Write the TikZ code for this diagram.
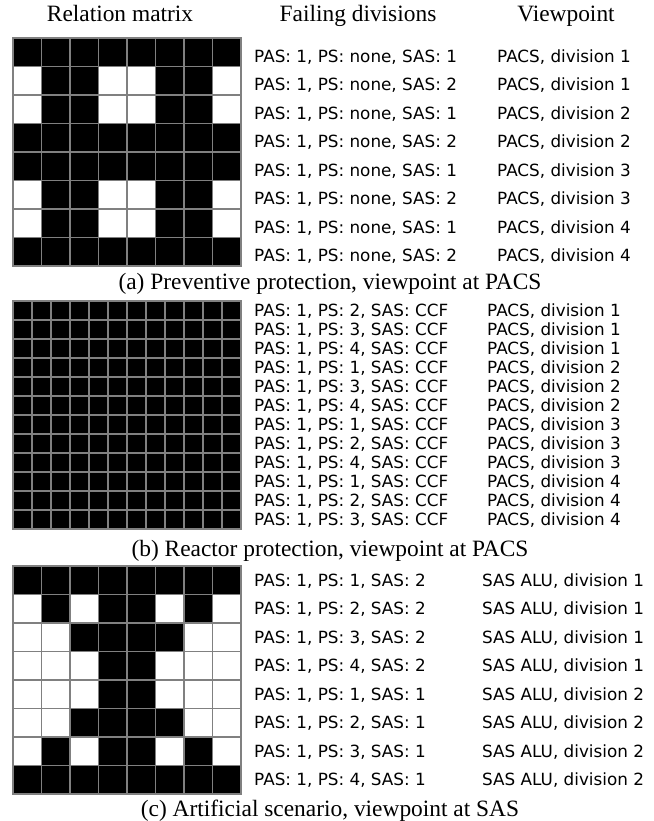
\documentclass[tikz,border=0pt]{standalone}
\usepackage{fontspec}
\setmainfont{Liberation Serif}
\newfontfamily\labelfont{DejaVu Sans}

\begin{document}
\begin{tikzpicture}[
    x=1pt, y=-1pt,
    blk/.style={draw=black!50, line width=1.6pt, fill=black},
    wht/.style={draw=black!50, line width=1.6pt, fill=white},
    heading/.style={font=\fontsize{23.4}{23.4}\selectfont, anchor=base, inner sep=0pt},
    rowlabel/.style={font=\labelfont\fontsize{16.8}{16.8}\selectfont,
                     anchor=base west, inner sep=0pt},
]

% fixed page size
\useasboundingbox (0,0) rectangle (653,821);

% --- Column headings ---
\node[heading] (hdrmat)  at (120, 22) {Relation matrix};
\node[heading] (hdrfail) at (358, 22) {Failing divisions};
\node[heading] (hdrview) at (566, 22) {Viewpoint};

% --- (a) Preventive protection ---
\foreach \r/\row in {
    1/{blk,blk,blk,blk,blk,blk,blk,blk},
    2/{wht,blk,blk,wht,wht,blk,blk,wht},
    3/{wht,blk,blk,wht,wht,blk,blk,wht},
    4/{blk,blk,blk,blk,blk,blk,blk,blk},
    5/{blk,blk,blk,blk,blk,blk,blk,blk},
    6/{wht,blk,blk,wht,wht,blk,blk,wht},
    7/{wht,blk,blk,wht,wht,blk,blk,wht},
    8/{blk,blk,blk,blk,blk,blk,blk,blk}} {
  \foreach \s [count=\c] in \row
    \draw[\s] ({13+28.5*(\c-1)}, {38+28.5*(\r-1)}) rectangle ++(28.5,28.5);
}
\foreach \sas/\dv [count=\i] in {1/1,2/1,1/2,2/2,1/3,2/3,1/4,2/4} {
  \node[rowlabel] (fa\i) at (254, {38+28.5*\i-14.25+10}) {PAS: 1, PS: none, SAS: \sas};
  \node[rowlabel] (va\i) at (497, {38+28.5*\i-14.25+10}) {PACS, division \dv};
}
\node[heading] (capa) at (330, 289) {(a) Preventive protection, viewpoint at PACS};

% --- (b) Reactor protection ---
\foreach \r in {1,...,12}
  \foreach \c in {1,...,12}
    \draw[blk] ({13+19*(\c-1)}, {301+19*(\r-1)}) rectangle ++(19,19);
\foreach \ps/\dv [count=\i] in {2/1,3/1,4/1,1/2,3/2,4/2,1/3,2/3,4/3,1/4,2/4,3/4} {
  \node[rowlabel] (fb\i) at (254, {301+19*\i-9.5+6}) {PAS: 1, PS: \ps, SAS: CCF};
  \node[rowlabel] (vb\i) at (487, {301+19*\i-9.5+6}) {PACS, division \dv};
}
\node[heading] (capb) at (330, 556) {(b) Reactor protection, viewpoint at PACS};

% --- (c) Artificial scenario ---
\foreach \r/\row in {
    1/{blk,blk,blk,blk,blk,blk,blk,blk},
    2/{wht,blk,wht,blk,blk,wht,blk,wht},
    3/{wht,wht,blk,blk,blk,blk,wht,wht},
    4/{wht,wht,wht,blk,blk,wht,wht,wht},
    5/{wht,wht,wht,blk,blk,wht,wht,wht},
    6/{wht,wht,blk,blk,blk,blk,wht,wht},
    7/{wht,blk,wht,blk,blk,wht,blk,wht},
    8/{blk,blk,blk,blk,blk,blk,blk,blk}} {
  \foreach \s [count=\c] in \row
    \draw[\s] ({13+28.5*(\c-1)}, {566+28.5*(\r-1)}) rectangle ++(28.5,28.5);
}
\foreach \ps/\sas/\dv [count=\i] in {1/2/1,2/2/1,3/2/1,4/2/1,1/1/2,2/1/2,3/1/2,4/1/2} {
  \node[rowlabel] (fc\i) at (254, {566+28.5*\i-14.25+6}) {PAS: 1, PS: \ps, SAS: \sas};
  \node[rowlabel] (vc\i) at (482, {566+28.5*\i-14.25+6}) {SAS ALU, division \dv};
}
\node[heading] (capc) at (330, 816) {(c) Artificial scenario, viewpoint at SAS};

\end{tikzpicture}
\end{document}
